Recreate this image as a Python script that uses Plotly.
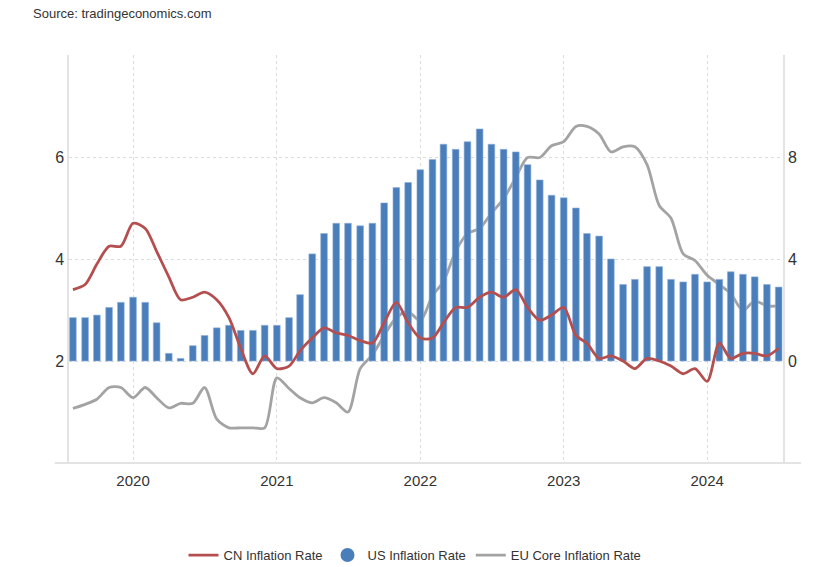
import plotly.graph_objects as go
import pandas as pd

months = pd.date_range("2019-08-01", "2024-07-01", freq="MS")

us_inflation = [
    1.7, 1.7, 1.8, 2.1, 2.3,
    2.5, 2.3, 1.5, 0.3, 0.1, 0.6, 1.0, 1.3, 1.4, 1.2, 1.2, 1.4,
    1.4, 1.7, 2.6, 4.2, 5.0, 5.4, 5.4, 5.3, 5.4, 6.2, 6.8, 7.0,
    7.5, 7.9, 8.5, 8.3, 8.6, 9.1, 8.5, 8.3, 8.2, 7.7, 7.1, 6.5,
    6.4, 6.0, 5.0, 4.9, 4.0, 3.0, 3.2, 3.7, 3.7, 3.2, 3.1, 3.4,
    3.1, 3.2, 3.5, 3.4, 3.3, 3.0, 2.9,
]

cn_inflation = [
    2.8, 3.0, 3.8, 4.5, 4.5,
    5.4, 5.2, 4.3, 3.3, 2.4, 2.5, 2.7, 2.4, 1.7, 0.5, -0.5, 0.2,
    -0.3, -0.2, 0.4, 0.9, 1.3, 1.1, 1.0, 0.8, 0.7, 1.5, 2.3, 1.5,
    0.9, 0.9, 1.5, 2.1, 2.1, 2.5, 2.7, 2.5, 2.8, 2.1, 1.6, 1.8,
    2.1, 1.0, 0.7, 0.1, 0.2, 0.0, -0.3, 0.1, 0.0, -0.2, -0.5, -0.3,
    -0.8, 0.7, 0.1, 0.3, 0.3, 0.2, 0.5,
]

eu_core_inflation = [
    1.07, 1.15, 1.25, 1.48, 1.48,
    1.28, 1.48, 1.28, 1.08, 1.17, 1.17, 1.48, 0.86, 0.69, 0.69, 0.69, 0.69,
    1.67, 1.46, 1.28, 1.18, 1.28, 1.18, 1.0, 1.85, 2.12, 2.5, 2.85, 2.97,
    2.79, 3.28, 3.56, 4.15, 4.5, 4.6, 4.9, 5.18, 5.6, 5.99, 5.99, 6.22,
    6.3, 6.6, 6.6, 6.45, 6.1, 6.2, 6.2, 5.85, 5.05, 4.8, 4.1, 3.97,
    3.68, 3.5, 3.32, 2.99, 3.18, 3.08, 3.08,
]

left_ticks = [2, 4, 6, 8]
left_labels = ["2", "4", "6", ""]
right_ticks = [0, 4, 8]
right_labels = ["0", "4", "8"]

BLUE = "#4a7ebb"
RED = "#b54f4f"
GRAY = "#a3a3a3"
GRID = "#dcdcdc"
TEXT = "#333333"

fig = go.Figure()

fig.add_trace(go.Bar(
    x=months, y=us_inflation, yaxis="y2", name="US Inflation Rate",
    marker=dict(color=BLUE, line=dict(color="#8fb0dc", width=0.6)),
    width=17 * 86400000, showlegend=False,
))

fig.add_trace(go.Scatter(
    x=months, y=eu_core_inflation, yaxis="y", mode="lines",
    name="EU Core Inflation Rate",
    line=dict(color=GRAY, width=2.8, shape="spline", smoothing=0.8),
    legendrank=3,
))

fig.add_trace(go.Scatter(
    x=months, y=cn_inflation, yaxis="y2", mode="lines",
    name="CN Inflation Rate",
    line=dict(color=RED, width=2.8, shape="spline", smoothing=0.8),
    legendrank=1,
))

fig.add_trace(go.Scatter(
    x=[None], y=[None], yaxis="y2", mode="markers", name="US Inflation Rate",
    marker=dict(color=BLUE, size=14, symbol="circle"),
    legendrank=2,
))

fig.update_layout(
    width=830, height=567,
    margin=dict(l=69, r=47, t=55, b=104, autoexpand=False),
    paper_bgcolor="white", plot_bgcolor="white",
    font=dict(family="Liberation Sans, Arial, sans-serif", color=TEXT),
    barmode="overlay",
    xaxis=dict(
        type="date",
        range=["2019-07-22", "2024-07-12"],
        tick0="2020-01-01", dtick="M12", tickformat="%Y",
        showgrid=True, gridcolor=GRID, griddash="dot", gridwidth=1,
        showline=False, zeroline=False, ticks="",
        ticklabelstandoff=7,
        tickfont=dict(size=15, color=TEXT),
    ),
    yaxis=dict(
        range=[0, 8], tickvals=left_ticks, ticktext=left_labels,
        showgrid=True, gridcolor=GRID, griddash="dot", gridwidth=1,
        showline=True, linecolor="#e3e3e3", linewidth=1.5,
        zeroline=False, ticks="", tickfont=dict(size=16, color=TEXT),
    ),
    yaxis2=dict(
        range=[-4, 12], tickvals=right_ticks, ticktext=right_labels,
        overlaying="y", side="right", showgrid=False,
        showline=True, linecolor="#e3e3e3", linewidth=1.5,
        zeroline=False, ticks="", tickfont=dict(size=16, color=TEXT),
    ),
    legend=dict(
        orientation="h", xref="container", x=0.5, xanchor="center",
        yref="container", y=0.021, yanchor="middle",
        font=dict(size=13, color=TEXT),
        traceorder="normal",
    ),
    shapes=[
        dict(type="line", xref="paper", yref="paper",
             x0=-0.02, x1=1.025, y0=0, y1=0,
             line=dict(color="#e3e3e3", width=2)),
    ],
    annotations=[
        dict(text="Source: tradingeconomics.com", xref="paper", yref="paper",
             x=-0.0532, y=1.1005, xanchor="left", yanchor="middle",
             showarrow=False, font=dict(size=13, color=TEXT)),
    ],
)

fig.write_html("out.html")
